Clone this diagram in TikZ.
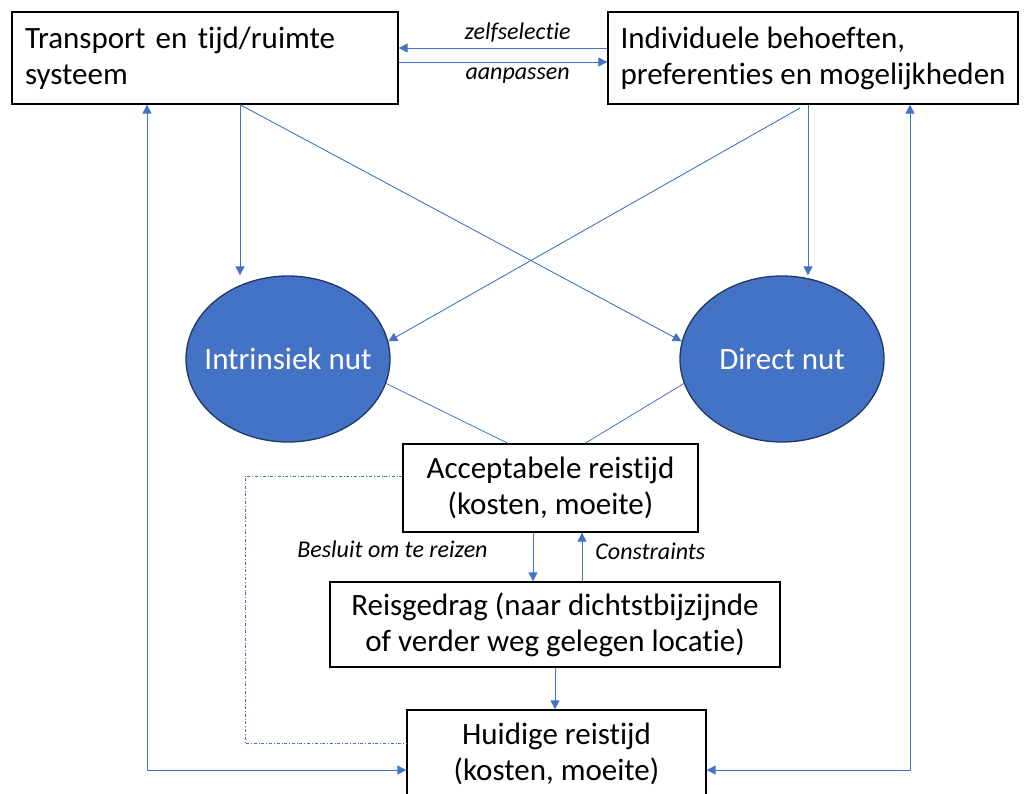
\documentclass[tikz,border=0pt]{standalone}
\usepackage{fontspec}
\setmainfont{Carlito}[Ligatures=NoCommon]
\usetikzlibrary{arrows.meta,shapes.geometric}
\definecolor{lijnblauw}{HTML}{4472C4}
\definecolor{nutblauw}{HTML}{4472C4}
\definecolor{nutrand}{HTML}{203864}

\begin{document}
\begin{tikzpicture}[x=1pt,y=-1pt,
    >={Triangle[length=9pt,width=9pt]},
    blok/.style={draw=black,line width=1.3pt,fill=white,inner sep=0pt,
      font=\fontsize{31}{36}\selectfont},
    nut/.style={ellipse,draw=nutrand,line width=1.3pt,fill=nutblauw,
      inner sep=0pt,minimum width=204pt,minimum height=166pt},
    nuttekst/.style={text=white,font=\fontsize{31}{36}\selectfont},
    pijl/.style={lijnblauw,line width=0.9pt,->},
    lijn/.style={lijnblauw,line width=0.8pt},
    lbl/.style={black,font=\fontsize{24}{28}\selectfont\itshape,inner sep=0pt}]
    \useasboundingbox (0,0) rectangle (1024,793);

    % boxes and ellipses
    \node[blok,minimum width=386pt,minimum height=92pt,text width=360pt,align=left]
      (trans) at (205,58) {Transport en tijd/ruimte\\systeem};
    \node[blok,minimum width=410pt,minimum height=92pt,align=left]
      (indiv) at (813,58) {Individuele behoeften,\\preferenties en mogelijkheden};
    \node[nut,label={[nuttekst]center:Intrinsiek nut}] (intr) at (288,359) {};
    \node[nut,label={[nuttekst]center:Direct nut}] (direct) at (782,359) {};
    \node[blok,minimum width=295pt,minimum height=88pt,align=center]
      (accept) at (550.5,488) {Acceptabele reistijd\\(kosten, moeite)};
    \node[blok,minimum width=450pt,minimum height=85pt,align=center]
      (gedrag) at (555,624.5) {Reisgedrag (naar dichtstbijzijnde\\of verder weg gelegen locatie)};
    \node[blok,minimum width=299pt,minimum height=88pt,align=center]
      (huidig) at (556.5,754) {Huidige reistijd\\(kosten, moeite)};

    % top arrows
    \draw[pijl] (indiv.west |- 0,48) -- (trans.east |- 0,48)
      node[lbl,pos=0.43,above=5pt] {zelfselectie};
    \draw[pijl] (trans.east |- 0,62) -- (indiv.west |- 0,62)
      node[lbl,pos=0.57,below=5pt] {aanpassen};

    % to the ellipses
    \draw[pijl] (trans.south -| 240,0) -- (intr.north -| 240,0);
    \draw[pijl] (trans.south -| 240,0) -- (direct.170);
    \draw[pijl] (800,108) -- (intr.10);
    \draw[pijl] (indiv.south -| 808,0) -- (direct.north -| 808,0);

    % ellipses to acceptable travel time
    \draw[lijn] (intr.-14) -- (accept.north -| 508,0);
    \draw[lijn] (direct.194) -- (accept.north -| 585,0);

    % middle arrows
    \draw[pijl] (accept.south -| 533,0) -- (gedrag.north -| 533,0)
      node[lbl,pos=0.34,left=45pt] {Besluit om te reizen};
    \draw[pijl] (gedrag.north -| 582,0) -- (accept.south -| 582,0)
      node[lbl,pos=0.62,right=13pt] {Constraints};
    \draw[pijl] (gedrag.south -| 555,0) -- (huidig.north -| 555,0);

    % dash-dot link
    \draw[lijn,line width=0.6pt,dash dot] (accept.west |- 0,476) -| (245,743)
      -- (huidig.west |- 0,743);

    % feedback loops
    \draw[pijl,<->] (trans.south -| 147,0) |- (huidig.west |- 0,770);
    \draw[pijl,<->] (huidig.east |- 0,770) -| (indiv.south -| 910,0);
\end{tikzpicture}
\end{document}
